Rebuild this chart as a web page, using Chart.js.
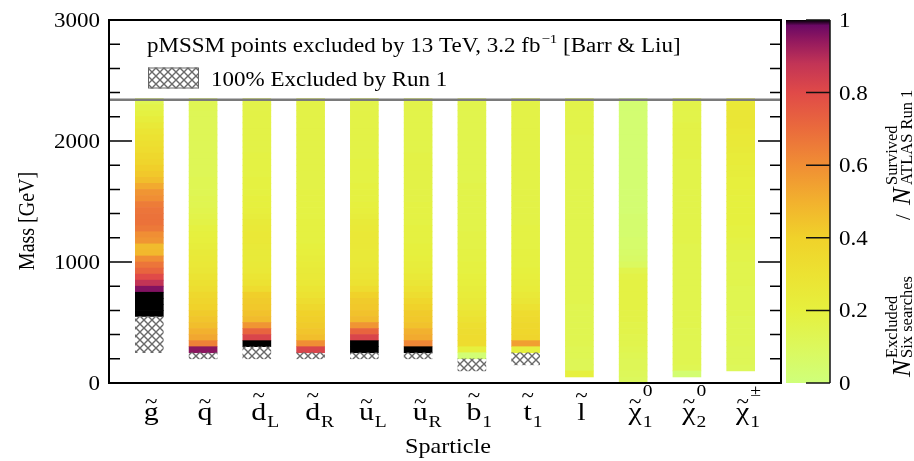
<!DOCTYPE html>
<html>
<head>
<meta charset="utf-8">
<script src="https://cdn.jsdelivr.net/npm/chart.js@4.4.1/dist/chart.umd.min.js"></script>
<style>
  html, body { margin: 0; padding: 0; background: #fff; }
  canvas { display: block; }
</style>
</head>
<body>
<canvas id="massChart" width="914" height="461"></canvas>
<script>
// histogram mass bins (GeV)
const binEdges = [0, 50, 100, 150, 200, 250, 300, 350, 400, 450, 500, 550, 600, 650, 700, 750, 800, 850, 900, 950,
  1000, 1050, 1100, 1150, 1200, 1250, 1300, 1350, 1400, 1450, 1500, 1550, 1600, 1650, 1700, 1750, 1800, 1850, 1900, 1950,
  2000, 2050, 2100, 2150, 2200, 2250, 2300, 2350];

// sparticle tick labels: base letter, subscript, superscript
const tickLabels = [
  { base: 'g', sub: '', sup: '', tall: false },
  { base: 'q', sub: '', sup: '', tall: false },
  { base: 'd', sub: 'L', sup: '', tall: true },
  { base: 'd', sub: 'R', sup: '', tall: true },
  { base: 'u', sub: 'L', sup: '', tall: false },
  { base: 'u', sub: 'R', sup: '', tall: false },
  { base: 'b', sub: '1', sup: '', tall: true },
  { base: 't', sub: '1', sup: '', tall: true },
  { base: 'l', sub: '', sup: '', tall: true },
  { base: 'χ', sub: '1', sup: '0', tall: false },
  { base: 'χ', sub: '2', sup: '0', tall: false },
  { base: 'χ', sub: '1', sup: '±', tall: false }
];

// lowest coloured bin of each bar
const firstMass = [550, 250, 300, 250, 250, 250, 200, 250, 50, 0, 50, 100];

// N excluded (six searches) / N survived (ATLAS Run 1), per 50 GeV bin, from firstMass upwards
const fracGluino = [1, 1, 1, 1, 0.96, 0.88, 0.8, 0.72, 0.67, 0.6, 0.48, 0.47, 0.58, 0.6, 0.66, 0.68, 0.68, 0.67, 0.65, 0.6,
  0.58, 0.52, 0.46, 0.43, 0.41, 0.38, 0.36, 0.34, 0.32, 0.3, 0.28, 0.25, 0.22, 0.19, 0.16, 0.13];
const fracSquark = [0.95, 0.64, 0.53, 0.5, 0.46, 0.44, 0.42, 0.4, 0.38, 0.36, 0.33, 0.31, 0.29, 0.27, 0.26, 0.25, 0.24, 0.22,
  0.21, 0.2, 0.19, 0.17, 0.16, 0.15, 0.14, 0.14, 0.13, 0.13, 0.13, 0.12, 0.12, 0.12, 0.12, 0.12, 0.12, 0.12, 0.12, 0.12,
  0.12, 0.12, 0.13, 0.13];
const fracSdownL = [1, 0.82, 0.72, 0.58, 0.47, 0.45, 0.43, 0.42, 0.41, 0.34, 0.3, 0.28, 0.26, 0.25, 0.24, 0.24, 0.25, 0.26,
  0.26, 0.25, 0.24, 0.22, 0.21, 0.2, 0.2, 0.19, 0.19, 0.19, 0.18, 0.18, 0.18, 0.18, 0.17, 0.17, 0.17, 0.17, 0.17, 0.17,
  0.17, 0.16, 0.16];
const fracSdownR = [0.82, 0.6, 0.46, 0.44, 0.42, 0.41, 0.4, 0.36, 0.33, 0.3, 0.28, 0.26, 0.25, 0.24, 0.23, 0.22, 0.21, 0.2,
  0.19, 0.19, 0.19, 0.19, 0.18, 0.18, 0.18, 0.18, 0.18, 0.17, 0.17, 0.17, 0.17, 0.17, 0.17, 0.17, 0.17, 0.17, 0.17, 0.17,
  0.17, 0.17, 0.17, 0.17];
const fracSupL = [1, 1, 0.82, 0.72, 0.58, 0.47, 0.45, 0.43, 0.42, 0.4, 0.34, 0.3, 0.28, 0.27, 0.26, 0.25, 0.25, 0.26, 0.26,
  0.26, 0.25, 0.24, 0.22, 0.21, 0.2, 0.19, 0.19, 0.19, 0.18, 0.18, 0.18, 0.18, 0.17, 0.17, 0.17, 0.17, 0.17, 0.17, 0.17,
  0.17, 0.16, 0.16];
const fracSupR = [1, 0.62, 0.52, 0.5, 0.45, 0.43, 0.42, 0.4, 0.37, 0.33, 0.3, 0.27, 0.25, 0.23, 0.22, 0.21, 0.2, 0.2, 0.19,
  0.19, 0.19, 0.18, 0.18, 0.18, 0.18, 0.17, 0.17, 0.17, 0.17, 0.17, 0.17, 0.17, 0.17, 0.16, 0.16, 0.16, 0.16, 0.16, 0.16,
  0.16, 0.16, 0.16];
const fracSbottom1 = [0.02, 0.2, 0.34, 0.34, 0.33, 0.32, 0.3, 0.28, 0.26, 0.24, 0.23, 0.22, 0.21, 0.2, 0.19, 0.19, 0.18,
  0.18, 0.17, 0.17, 0.17, 0.16, 0.16, 0.16, 0.16, 0.16, 0.16, 0.16, 0.16, 0.15, 0.15, 0.15, 0.15, 0.15, 0.15, 0.15, 0.15,
  0.15, 0.15, 0.15, 0.15, 0.15, 0.15];
const fracStop1 = [0.2, 0.55, 0.38, 0.37, 0.36, 0.35, 0.34, 0.3, 0.27, 0.25, 0.23, 0.22, 0.21, 0.2, 0.19, 0.19, 0.19, 0.18,
  0.18, 0.18, 0.18, 0.17, 0.17, 0.17, 0.17, 0.17, 0.17, 0.17, 0.17, 0.17, 0.17, 0.17, 0.17, 0.17, 0.17, 0.17, 0.17, 0.17,
  0.17, 0.17, 0.17, 0.17];
const fracSlepton = [0.2, 0.12, 0.12, 0.13, 0.13, 0.14, 0.14, 0.14, 0.14, 0.14, 0.14, 0.14, 0.15, 0.15, 0.15, 0.15, 0.15,
  0.15, 0.15, 0.15, 0.15, 0.15, 0.15, 0.15, 0.15, 0.15, 0.15, 0.15, 0.15, 0.15, 0.15, 0.15, 0.15, 0.15, 0.15, 0.15, 0.15,
  0.15, 0.15, 0.15, 0.16, 0.16, 0.16, 0.16, 0.16, 0.16];
const fracNeutralino1 = [0.1, 0.11, 0.12, 0.12, 0.13, 0.14, 0.15, 0.15, 0.16, 0.16, 0.17, 0.17, 0.18, 0.18, 0.18, 0.18, 0.18,
  0.17, 0.15, 0.09, 0.07, 0.06, 0.05, 0.05, 0.04, 0.04, 0.04, 0.04, 0.03, 0.03, 0.03, 0.03, 0.03, 0.03, 0.03, 0.03, 0.03,
  0.03, 0.03, 0.03, 0.03, 0.03, 0.03, 0.03, 0.03, 0.03, 0.03];
const fracNeutralino2 = [0.03, 0.13, 0.14, 0.14, 0.14, 0.14, 0.14, 0.14, 0.15, 0.15, 0.15, 0.15, 0.15, 0.15, 0.15, 0.15,
  0.15, 0.15, 0.15, 0.15, 0.15, 0.15, 0.16, 0.16, 0.16, 0.16, 0.16, 0.16, 0.16, 0.16, 0.16, 0.16, 0.16, 0.16, 0.16, 0.16,
  0.17, 0.17, 0.17, 0.17, 0.17, 0.17, 0.16, 0.16, 0.16, 0.16];
const fracChargino1 = [0.11, 0.12, 0.12, 0.12, 0.13, 0.13, 0.13, 0.13, 0.13, 0.14, 0.14, 0.14, 0.14, 0.14, 0.15, 0.15, 0.15,
  0.15, 0.16, 0.16, 0.17, 0.18, 0.19, 0.19, 0.2, 0.2, 0.2, 0.2, 0.2, 0.21, 0.21, 0.21, 0.22, 0.22, 0.23, 0.23, 0.24, 0.25,
  0.25, 0.26, 0.27, 0.27, 0.27, 0.26, 0.25];

const fractions = [fracGluino, fracSquark, fracSdownL, fracSdownR, fracSupL, fracSupR,
  fracSbottom1, fracStop1, fracSlepton, fracNeutralino1, fracNeutralino2, fracChargino1];

// mass range 100% excluded by Run 1 (hatched)
const run1Low = [250, 200, 200, 200, 200, 200, 100, 150, null, null, null, null];
const run1High = [550, 250, 300, 250, 250, 250, 200, 250, null, null, null, null];

const yTicks = [0, 1000, 2000, 3000];
const cbarTicks = [0, 0.2, 0.4, 0.6, 0.8, 1];
const cbarTickLabels = ['0', '0.2', '0.4', '0.6', '0.8', '1'];
const separatorMass = 2340;

// colour palette of the z axis
const paletteStops = [
  [0.0, '#cfff7a'], [0.1, '#dcf85c'], [0.2, '#e6f03e'], [0.3, '#ece232'], [0.4, '#f0d22a'],
  [0.5, '#f2b12e'], [0.6, '#f08e34'], [0.7, '#ea6b3c'], [0.8, '#e04a48'], [0.88, '#c23456'],
  [0.94, '#951a5e'], [0.985, '#6a0864'], [1.0, '#000000']
];

function hexRgb(h) {
  return [parseInt(h.slice(1, 3), 16), parseInt(h.slice(3, 5), 16), parseInt(h.slice(5, 7), 16)];
}
function colorFor(v) {
  for (let i = 1; i < paletteStops.length; i++) {
    if (v <= paletteStops[i][0]) {
      const a = hexRgb(paletteStops[i - 1][1]), b = hexRgb(paletteStops[i][1]);
      const t = (v - paletteStops[i - 1][0]) / (paletteStops[i][0] - paletteStops[i - 1][0]);
      return 'rgb(' + a.map((c, k) => Math.round(c + (b[k] - c) * t)).join(',') + ')';
    }
  }
  return paletteStops[paletteStops.length - 1][1];
}

// cross hatch
const hatchCanvas = document.createElement('canvas');
hatchCanvas.width = 8;
hatchCanvas.height = 8;
const hc = hatchCanvas.getContext('2d');
hc.strokeStyle = '#6a6a6a';
hc.lineWidth = 1.4;
hc.beginPath();
hc.moveTo(0, 0); hc.lineTo(8, 8);
hc.moveTo(8, 0); hc.lineTo(0, 8);
hc.stroke();
const hatchPattern = document.getElementById('massChart').getContext('2d').createPattern(hatchCanvas, 'repeat');

const datasets = [];
const hatchData = [];
run1Low.forEach((lo, j) => {
  if (lo !== null) hatchData.push({ x: j, y: [lo, run1High[j]] });
});
datasets.push({ label: '100% Excluded by Run 1', data: hatchData, backgroundColor: hatchPattern });

for (let k = 0; k < binEdges.length - 1; k++) {
  const pts = [], cols = [];
  fractions.forEach((f, j) => {
    const i = k - binEdges.indexOf(firstMass[j]);
    if (i >= 0 && i < f.length) {
      pts.push({ x: j, y: [binEdges[k], binEdges[k + 1]] });
      cols.push(colorFor(f[i]));
    }
  });
  datasets.push({ label: 'bin ' + binEdges[k], data: pts, backgroundColor: cols });
}

const SERIF = '"Liberation Serif", "Times New Roman", serif';
const STRETCH = 1.15;

function txt(ctx, s, x, y, size, align, opts) {
  opts = opts || {};
  ctx.save();
  ctx.font = (opts.italic ? 'italic ' : '') + size + 'px ' + SERIF;
  ctx.fillStyle = '#000';
  ctx.textBaseline = 'alphabetic';
  ctx.translate(x, y);
  const sx = opts.sx || STRETCH;
  ctx.scale(sx, opts.sy || 1);
  const w = ctx.measureText(s).width;
  const dx = align === 'center' ? -w / 2 : align === 'right' ? -w : 0;
  ctx.fillText(s, dx, 0);
  ctx.restore();
  return w * sx;
}

const decorations = {
  id: 'decorations',
  afterDraw(chart) {
    const ctx = chart.ctx;
    const xs = chart.scales.x, ys = chart.scales.y, cs = chart.scales.cbar;
    const a = chart.chartArea;

    // separator under the legend
    ctx.save();
    ctx.strokeStyle = '#7a7a7a';
    ctx.lineWidth = 2.5;
    const sy = ys.getPixelForValue(separatorMass);
    ctx.beginPath();
    ctx.moveTo(a.left, sy); ctx.lineTo(a.right, sy);
    ctx.stroke();

    // frame
    ctx.strokeStyle = '#000';
    ctx.lineWidth = 2;
    ctx.strokeRect(a.left, a.top, a.right - a.left, a.bottom - a.top);

    // inward ticks on both sides
    ctx.lineWidth = 1.5;
    ctx.beginPath();
    for (let v = 200; v < 3000; v += 200) {
      const len = v % 1000 === 0 ? 23 : 11;
      const py = ys.getPixelForValue(v);
      ctx.moveTo(a.left, py); ctx.lineTo(a.left + len, py);
      ctx.moveTo(a.right, py); ctx.lineTo(a.right - len, py);
    }
    ctx.stroke();
    ctx.restore();

    // y tick labels and title
    yTicks.forEach(v => txt(ctx, String(v), a.left - 9, ys.getPixelForValue(v) + 7, 20, 'right'));
    ctx.save();
    ctx.translate(34, 221);
    ctx.rotate(-Math.PI / 2);
    txt(ctx, 'Mass [GeV]', 0, 0, 20, 'center', { sx: 1, sy: STRETCH });
    ctx.restore();

    // legend
    let lx = 147;
    lx += txt(ctx, 'pMSSM points excluded by 13 TeV, 3.2 fb', lx, 51.5, 20, 'left');
    lx += txt(ctx, '−1', lx + 1, 43, 13, 'left') + 1;
    txt(ctx, ' [Barr & Liu]', lx, 51.5, 20, 'left');
    ctx.save();
    ctx.fillStyle = hatchPattern;
    ctx.fillRect(148, 67.5, 51, 21);
    ctx.strokeStyle = '#666';
    ctx.lineWidth = 1;
    ctx.strokeRect(148.5, 68, 50, 20);
    ctx.restore();
    txt(ctx, '100% Excluded by Run 1', 211, 86, 20, 'left');

    // sparticle labels
    tickLabels.forEach((lab, j) => {
      const cx = xs.getPixelForValue(j) + 2;
      ctx.save();
      ctx.font = '26px ' + SERIF;
      const bw = ctx.measureText(lab.base).width * STRETCH;
      ctx.restore();
      txt(ctx, lab.base, cx, 420, 26, 'center');
      txt(ctx, '~', cx, lab.tall ? 402 : 408, 20, 'center');
      if (lab.sup) txt(ctx, lab.sup, cx + bw / 2 + 1, 396, 17, 'left');
      if (lab.sub) txt(ctx, lab.sub, cx + bw / 2 + 1, 427, 17, 'left');
    });
    txt(ctx, 'Sparticle', (a.left + a.right) / 2 + 3, 453, 21, 'center');

    // colour bar
    const cx0 = a.right + 5, cw = 44;
    const cy0 = cs.getPixelForValue(0), cy1 = cs.getPixelForValue(1);
    const grad = ctx.createLinearGradient(0, cy0, 0, cy1);
    paletteStops.forEach(([v, c]) => grad.addColorStop(v, c));
    ctx.save();
    ctx.fillStyle = grad;
    ctx.fillRect(cx0, cy1, cw, cy0 - cy1);
    ctx.strokeStyle = '#111';
    ctx.lineWidth = 1.5;
    ctx.beginPath();
    ctx.moveTo(cx0 + cw, cy1); ctx.lineTo(cx0 + cw, cy0);
    cbarTicks.forEach(v => {
      const py = cs.getPixelForValue(v);
      ctx.moveTo(cx0 + cw, py); ctx.lineTo(cx0 + cw - 24, py);
    });
    ctx.stroke();
    ctx.restore();
    cbarTicks.forEach((v, i) => txt(ctx, cbarTickLabels[i], cx0 + cw + 9, cs.getPixelForValue(v) + 7, 20, 'left'));

    // colour bar title, read bottom to top
    ctx.save();
    ctx.translate(910, cy0 - 6);
    ctx.rotate(-Math.PI / 2);
    txt(ctx, 'N', 0, 0, 26, 'left', { italic: true, sx: 1 });
    txt(ctx, 'Excluded', 19, -13.5, 16.5, 'left', { sx: 1 });
    txt(ctx, 'Six searches', 19, 1.5, 16.5, 'left', { sx: 1 });
    txt(ctx, '/', 160, 0, 21, 'center', { sx: 1 });
    txt(ctx, 'N', 172, 0, 26, 'left', { italic: true, sx: 1 });
    txt(ctx, 'Survived', 192, -13.5, 16.5, 'left', { sx: 1 });
    txt(ctx, 'ATLAS Run 1', 192, 1.5, 16.5, 'left', { sx: 1 });
    ctx.restore();
  }
};

const massChart = new Chart(document.getElementById('massChart'), {
  type: 'bar',
  data: { datasets: datasets },
  options: {
    responsive: false,
    animation: false,
    devicePixelRatio: 1,
    layout: { padding: { left: 109, right: 133, top: 20, bottom: 78 } },
    datasets: {
      bar: { grouped: false, barThickness: 28, borderWidth: 0 }
    },
    plugins: { legend: { display: false }, tooltip: { enabled: false } },
    scales: {
      x: { type: 'linear', min: -0.75, max: 11.75, offset: false, display: false },
      y: { type: 'linear', min: 0, max: 3000, display: false },
      cbar: { type: 'linear', position: 'right', min: 0, max: 1, display: false }
    }
  },
  plugins: [decorations]
});
</script>
</body>
</html>
